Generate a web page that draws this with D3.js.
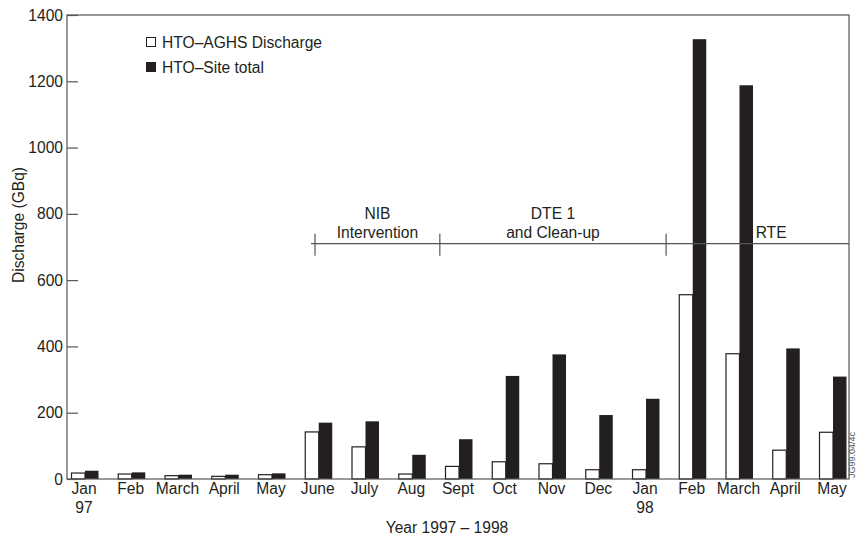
<!DOCTYPE html>
<html>
<head>
<meta charset="utf-8">
<script src="https://cdn.jsdelivr.net/npm/d3@7"></script>
<style>
	body { margin: 0; background: #fff; }
	svg text { font-family: 'Liberation Sans', Arial, sans-serif; fill: #231f20; }
</style>
</head>
<body>
<div id="chart"></div>
<script>
// month labels (second line used for the year marks)
const months = ['Jan', 'Feb', 'March', 'April', 'May', 'June', 'July', 'Aug', 'Sept', 'Oct', 'Nov', 'Dec', 'Jan', 'Feb', 'March', 'April', 'May'];
const yearMarks = ['97', '', '', '', '', '', '', '', '', '', '', '', '98', '', '', '', ''];
// HTO-AGHS discharge (GBq)
const aghs = [18, 15, 10, 8, 13, 142, 97, 15, 38, 52, 46, 28, 28, 556, 378, 87, 141];
// HTO-Site total (GBq)
const siteTotal = [25, 20, 13, 13, 17, 170, 174, 73, 120, 311, 376, 193, 242, 1327, 1188, 394, 309];
const yTicks = [0, 200, 400, 600, 800, 1000, 1200, 1400];
// operating periods: boundaries as month positions, label lines
const periodMarks = [4.92, 7.59, 12.43];
const periods = [
	{ from: 4.92, to: 7.59, lines: ['NIB', 'Intervention'] },
	{ from: 7.59, to: 12.43, lines: ['DTE 1', 'and Clean-up'] },
	{ from: 12.43, to: 18.0, lines: ['RTE'] }
];
const periodLevel = 710;

const width = 858, height = 542;
const margins = { top: 15, left: 67, right: 9, bottom: 63 };
const plotW = width - margins.left - margins.right;
const plotH = height - margins.top - margins.bottom;
const ink = '#231f20';
const fs = '15.6px';

let svg = d3.select('#chart').append('svg')
	.attr('width', width)
	.attr('height', height);

let idx = d3.range(months.length);
let xScale = d3.scalePoint()
	.domain(idx)
	.range([18, 766]);
// continuous version for the period markers
let xPos = d3.scaleLinear().domain([0, months.length - 1]).range([18, 766]);
let yScale = d3.scaleLinear()
	.domain([0, 1400])
	.range([plotH, 0]);

let g = svg.append('g')
	.attr('transform', `translate(${margins.left},${margins.top})`);

let barW = 13.5;

// bars
g.selectAll('.aghs').data(idx).enter().append('rect')
	.attr('class', 'aghs')
	.attr('x', i => xScale(i) - barW)
	.attr('y', i => yScale(aghs[i]))
	.attr('width', barW)
	.attr('height', i => plotH - yScale(aghs[i]))
	.attr('fill', '#fff')
	.attr('stroke', ink)
	.attr('stroke-width', 1.2);

g.selectAll('.site').data(idx).enter().append('rect')
	.attr('class', 'site')
	.attr('x', i => xScale(i))
	.attr('y', i => yScale(siteTotal[i]))
	.attr('width', barW)
	.attr('height', i => plotH - yScale(siteTotal[i]))
	.attr('fill', ink);

// frame
g.append('rect')
	.attr('width', plotW)
	.attr('height', plotH)
	.attr('fill', 'none')
	.attr('stroke', '#555')
	.attr('stroke-width', 1.2);

// y axis, ticks pointing inwards
let yAxis = d3.axisRight(yScale).tickValues(yTicks).tickSize(11).tickFormat('');
let gY = g.append('g').attr('class', 'y axis').call(yAxis);
gY.select('.domain').remove();
gY.selectAll('line').attr('stroke', '#555').attr('stroke-width', 1.2);
g.selectAll('.ylab').data(yTicks).enter().append('text')
	.attr('x', -4)
	.attr('y', d => yScale(d))
	.attr('dy', '0.36em')
	.attr('text-anchor', 'end')
	.style('font-size', fs)
	.text(d => d);

// x labels
let gX = g.append('g').attr('transform', `translate(0,${plotH})`);
gX.selectAll('.m').data(idx).enter().append('text')
	.attr('x', i => xScale(i) - 1)
	.attr('y', 15)
	.attr('text-anchor', 'middle')
	.style('font-size', fs)
	.text(i => months[i]);
gX.selectAll('.yr').data(idx.filter(i => yearMarks[i])).enter().append('text')
	.attr('x', i => xScale(i) - 1)
	.attr('y', 34)
	.attr('text-anchor', 'middle')
	.style('font-size', fs)
	.text(i => yearMarks[i]);

// period line
let py = yScale(periodLevel);
g.append('line')
	.attr('x1', xPos(periodMarks[0]) - 4)
	.attr('x2', plotW)
	.attr('y1', py).attr('y2', py)
	.attr('stroke', '#555').attr('stroke-width', 1.2);
g.selectAll('.pm').data(periodMarks).enter().append('line')
	.attr('x1', d => xPos(d)).attr('x2', d => xPos(d))
	.attr('y1', py - 10).attr('y2', py + 12)
	.attr('stroke', '#555').attr('stroke-width', 1.2);
periods.forEach(p => {
	let cx = p.lines.length > 1 ? (xPos(p.from) + xPos(p.to)) / 2 : xPos(p.from) + 105;
	p.lines.forEach((t, k) => {
		g.append('text')
			.attr('x', cx)
			.attr('y', py - 6 - (p.lines.length - 1 - k) * 19)
			.attr('text-anchor', 'middle')
			.style('font-size', fs)
			.text(t);
	});
});

// legend
let legend = [['HTO\u2013AGHS Discharge', '#fff'], ['HTO\u2013Site total', ink]];
let lg = svg.append('g').attr('transform', 'translate(146,37)');
legend.forEach((d, k) => {
	lg.append('rect')
		.attr('x', 0.5).attr('y', k * 25 + 0.5)
		.attr('width', 9).attr('height', 9)
		.attr('fill', d[1])
		.attr('stroke', ink).attr('stroke-width', 1);
	lg.append('text')
		.attr('x', 16).attr('y', k * 25 + 5)
		.attr('dy', '0.36em')
		.style('font-size', fs)
		.text(d[0]);
});

// axis titles
svg.append('text')
	.attr('transform', 'rotate(-90)')
	.attr('x', -225)
	.attr('y', 18)
	.attr('dy', '0.36em')
	.attr('text-anchor', 'middle')
	.style('font-size', fs)
	.text('Discharge (GBq)');
svg.append('text')
	.attr('x', 447)
	.attr('y', 533)
	.attr('text-anchor', 'middle')
	.style('font-size', fs)
	.text('Year 1997 \u2013 1998');

// figure code
svg.append('text')
	.attr('transform', 'translate(855,478) rotate(-90)')
	.attr('text-anchor', 'start')
	.style('font-size', '9px')
	.style('fill', '#555')
	.text('JG99.04/4c');
</script>
</body>
</html>
